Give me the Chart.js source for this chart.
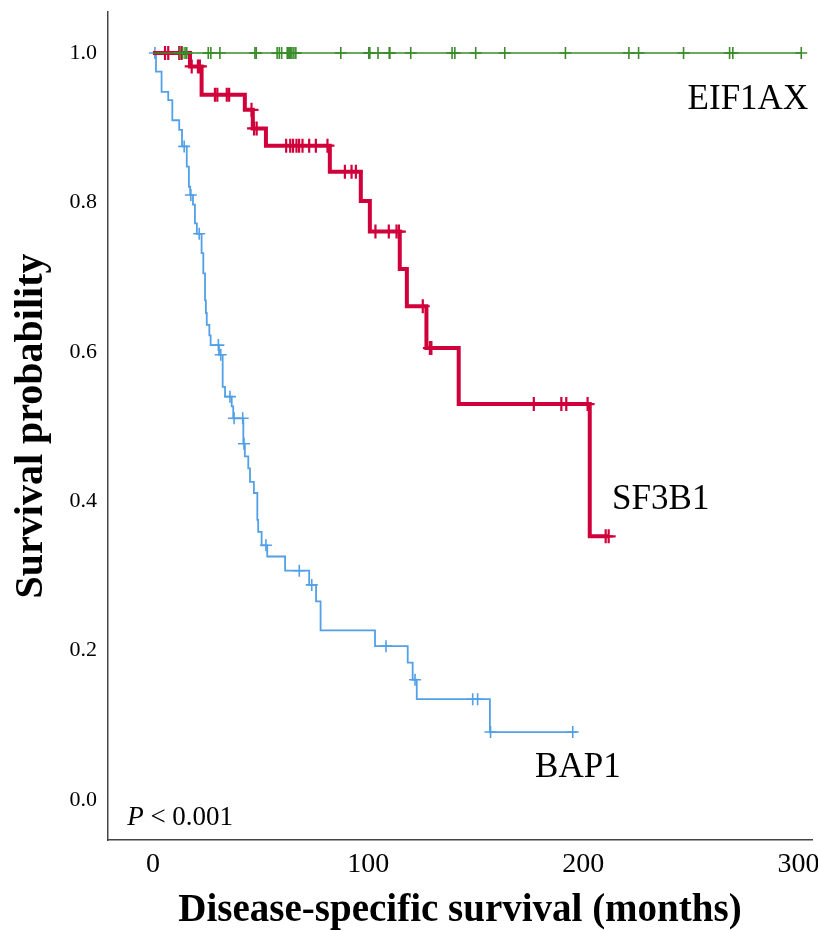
<!DOCTYPE html>
<html><head><meta charset="utf-8">
<script src="https://cdn.jsdelivr.net/npm/chart.js@4/dist/chart.umd.min.js"></script>
<style>html,body{margin:0;padding:0;background:#fff}#wrap{width:818px;height:931px}</style>
</head><body><div id="wrap"><canvas id="c" width="818" height="931"></canvas></div>
<script>
// ---- data ----
const xTicks = [0, 100, 200, 300];
const yTicks = [0, 0.2, 0.4, 0.6, 0.8, 1.0];

const eifTimes = [0, 301.3];
const eifSurv = [1, 1];
const eifCensor = [12.5, 13.8, 14.9, 15.7, 25.7, 26.9, 31.1, 47.4, 48.0, 57.7, 58.7, 59.8, 62.4, 62.8, 63.3, 64.0, 64.6, 65.5, 66.4, 87.3, 100.3, 100.8, 104.6, 109.8, 110.1, 119.8, 139.0, 140.3, 150.0, 163.5, 191.7, 221.2, 225.7, 246.6, 268.0, 269.5, 301.3];

const sfTimes = [0, 17.2, 22.6, 42.7, 46.4, 52.5, 82.2, 96.6, 100.8, 114.7, 118.0, 127.1, 142.1, 203.0, 211.8];
const sfSurv = [1, 0.982, 0.944, 0.924, 0.899, 0.876, 0.841, 0.802, 0.761, 0.711, 0.661, 0.605, 0.530, 0.353, 0.353];
const sfCensor = [5.6, 7.1, 12.2, 13.3, 18.0, 20.9, 21.8, 28.8, 29.9, 34.3, 35.4, 45.8, 47.0, 48.2, 61.9, 63.8, 65.1, 66.7, 67.9, 69.5, 72.6, 75.7, 81.1, 89.2, 92.3, 94.3, 103.4, 109.6, 113.2, 114.3, 125.4, 128.7, 129.4, 177.0, 189.8, 192.1, 202.0, 210.4, 211.8];

const bapTimes = [0, 1.4, 4.0, 7.1, 9.0, 12.2, 13.5, 15.7, 16.7, 17.3, 18.6, 19.5, 20.4, 22.6, 23.4, 24.2, 24.6, 25.0, 26.2, 26.8, 30.7, 32.4, 33.5, 36.6, 37.3, 42.0, 42.7, 44.3, 45.1, 46.9, 48.5, 48.9, 50.5, 53.1, 61.4, 72.6, 75.8, 77.9, 103.2, 118.4, 120.7, 122.6, 156.6, 196.9];
const bapSurv = [1, 0.975, 0.948, 0.937, 0.910, 0.897, 0.875, 0.848, 0.821, 0.810, 0.797, 0.772, 0.758, 0.732, 0.705, 0.669, 0.652, 0.636, 0.622, 0.609, 0.596, 0.553, 0.540, 0.527, 0.511, 0.477, 0.460, 0.444, 0.426, 0.411, 0.375, 0.359, 0.341, 0.326, 0.307, 0.288, 0.266, 0.227, 0.206, 0.184, 0.161, 0.135, 0.091, 0.091];
const bapCensor = [0.9, 14.5, 17.6, 21.5, 30.4, 31.5, 35.8, 37.7, 41.7, 42.3, 52.5, 68.0, 73.8, 108.3, 121.8, 148.6, 150.9, 156.9, 195.1];

const seriesNames = ['EIF1AX', 'SF3B1', 'BAP1'];
const pText = '< 0.001';

// ---- helpers ----
function stepAt(times, surv, t) {
  let s = surv[0];
  for (let i = 0; i < times.length; i++) if (times[i] <= t) s = surv[i];
  return s;
}
const curve = (times, surv) => times.map((t, i) => ({x: t, y: surv[i]}));
const marks = (cens, times, surv) => cens.map(t => ({x: t, y: stepAt(times, surv, t)}));

const GREEN = '#3a8c2a', RED = '#d0003a', BLUE = '#52a0e8';

// label placement (styling, not data)
const labelPos = [
  {name: 0, x: 276.5, y: 0.937},
  {name: 1, x: 236, y: 0.402},
  {name: 2, x: 197.5, y: 0.043}
];

const textPlugin = {
  id: 'kmText',
  afterDatasetsDraw(chart) {
    const {ctx, scales: {x, y}} = chart;
    ctx.save();
    ctx.fillStyle = '#000';
    ctx.font = '35px "Liberation Serif", serif';
    ctx.textAlign = 'center';
    ctx.textBaseline = 'middle';
    labelPos.forEach(l => ctx.fillText(seriesNames[l.name], x.getPixelForValue(l.x), y.getPixelForValue(l.y)));
    ctx.textAlign = 'left';
    ctx.textBaseline = 'alphabetic';
    const px = x.getPixelForValue(-12), py = y.getPixelForValue(-0.034);
    ctx.font = 'italic 27px "Liberation Serif", serif';
    ctx.fillText('P', px, py);
    const w = ctx.measureText('P ').width;
    ctx.font = '27px "Liberation Serif", serif';
    ctx.fillText(pText, px + w, py);
    ctx.restore();
  }
};

new Chart(document.getElementById('c'), {
  type: 'line',
  data: {
    datasets: [
      {data: curve(eifTimes, eifSurv), borderColor: GREEN, borderWidth: 1.6, stepped: true, pointRadius: 0, fill: false, order: 0},
      {data: marks(eifCensor, eifTimes, eifSurv), showLine: false, pointStyle: 'cross', pointRadius: 6, borderColor: GREEN, pointBorderWidth: 1.6, order: 0},
      {data: curve(sfTimes, sfSurv), borderColor: RED, borderWidth: 4, stepped: true, pointRadius: 0, fill: false, order: 1},
      {data: marks(sfCensor, sfTimes, sfSurv), showLine: false, pointStyle: 'cross', pointRadius: 7, borderColor: RED, pointBorderWidth: 2.2, order: 1},
      {data: curve(bapTimes, bapSurv), borderColor: BLUE, borderWidth: 1.8, stepped: true, pointRadius: 0, fill: false, order: 2},
      {data: marks(bapCensor, bapTimes, bapSurv), showLine: false, pointStyle: 'cross', pointRadius: 6, borderColor: BLUE, pointBorderWidth: 1.6, order: 2}
    ]
  },
  options: {
    responsive: false,
    animation: false,
    layout: {autoPadding: false, padding: {top: 12, right: 6, left: 0, bottom: 0}},
    plugins: {legend: {display: false}, tooltip: {enabled: false}},
    scales: {
      x: {
        type: 'linear', min: -20.9, max: 306.3,
        grid: {display: false, drawTicks: false},
        border: {display: true, color: '#444', width: 1.5},
        afterBuildTicks: s => { s.ticks = xTicks.map(v => ({value: v})); },
        afterFit: s => { s.height = 91; s.paddingLeft = 0; s.paddingRight = 0; },
        ticks: {color: '#000', padding: 8, font: {family: '"Liberation Serif", serif', size: 28}, callback: v => String(v)},
        title: {display: true, text: 'Disease-specific survival (months)', color: '#000', padding: {top: 0, bottom: -3}, font: {family: '"Liberation Serif", serif', size: 39, weight: 'bold'}}
      },
      y: {
        type: 'linear', min: -0.0535, max: 1.0549,
        grid: {display: false, drawTicks: false},
        border: {display: true, color: '#444', width: 1.5},
        afterBuildTicks: s => { s.ticks = yTicks.map(v => ({value: v})); },
        afterFit: s => { s.width = 108; s.paddingTop = 0; s.paddingBottom = 0; },
        ticks: {color: '#000', padding: 11, font: {family: '"Liberation Serif", serif', size: 22}, callback: v => Number(v).toFixed(1)},
        title: {display: true, text: 'Survival probability', color: '#000', padding: {top: 8, bottom: 0}, font: {family: '"Liberation Serif", serif', size: 40, weight: 'bold'}}
      }
    }
  },
  plugins: [textPlugin]
});
</script></body></html>
